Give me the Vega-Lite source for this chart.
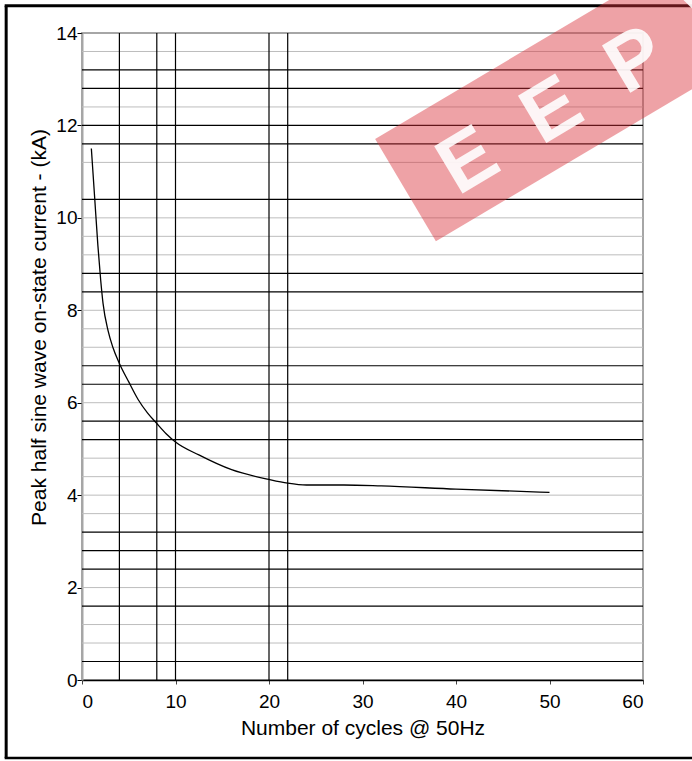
{
  "$schema": "https://vega.github.io/schema/vega-lite/v6.json",
  "width": 561,
  "height": 647,
  "autosize": "none",
  "padding": {"left": 82, "top": 33, "right": 49, "bottom": 81},
  "background": "white",
  "config": {
    "font": "Liberation Sans",
    "view": {"stroke": "#a6a6a6", "strokeWidth": 2}
  },
  "datasets": {
    "curve": [
      {"cycles": 1.0, "current": 11.5},
      {"cycles": 1.35, "current": 10.45},
      {"cycles": 1.7, "current": 9.4},
      {"cycles": 2.0, "current": 8.65},
      {"cycles": 2.25, "current": 8.15},
      {"cycles": 2.8, "current": 7.55},
      {"cycles": 3.3, "current": 7.2},
      {"cycles": 4.0, "current": 6.85},
      {"cycles": 5.0, "current": 6.45},
      {"cycles": 6.0, "current": 6.07},
      {"cycles": 7.0, "current": 5.78},
      {"cycles": 8.0, "current": 5.55},
      {"cycles": 9.0, "current": 5.33},
      {"cycles": 10.0, "current": 5.15},
      {"cycles": 12.5, "current": 4.87},
      {"cycles": 16.0, "current": 4.55},
      {"cycles": 20.0, "current": 4.34},
      {"cycles": 22.0, "current": 4.26},
      {"cycles": 24.0, "current": 4.22},
      {"cycles": 28.0, "current": 4.22},
      {"cycles": 32.0, "current": 4.2},
      {"cycles": 40.0, "current": 4.13},
      {"cycles": 50.0, "current": 4.06}
    ],
    "gray": [
      {"v": 13.6}, {"v": 12.4}, {"v": 11.2}, {"v": 10.0}, {"v": 9.6}, {"v": 9.2},
      {"v": 8.0}, {"v": 7.6}, {"v": 7.2}, {"v": 6.0}, {"v": 4.8}, {"v": 4.4},
      {"v": 4.0}, {"v": 3.6}, {"v": 2.0}, {"v": 1.2}, {"v": 0.8}
    ],
    "black": [
      {"v": 13.2}, {"v": 12.8}, {"v": 12.0}, {"v": 11.6}, {"v": 10.4}, {"v": 8.8},
      {"v": 8.4}, {"v": 6.8}, {"v": 6.4}, {"v": 5.6}, {"v": 5.2}, {"v": 3.2},
      {"v": 2.8}, {"v": 2.4}, {"v": 1.6}, {"v": 0.4}
    ],
    "vert": [{"c": 4}, {"c": 8}, {"c": 10}, {"c": 20}, {"c": 22}],
    "band": [{"x": 34.6, "y": 10.6}, {"x": 71.4, "y": 15.02}]
  },
  "layer": [
    {
      "data": {"name": "gray"},
      "mark": {"type": "rule", "color": "#bdbdbd", "strokeWidth": 1},
      "encoding": {
        "y": {
          "field": "v", "type": "quantitative",
          "scale": {"domain": [0, 14], "nice": false, "zero": false},
          "axis": {
            "values": [0, 2, 4, 6, 8, 10, 12, 14],
            "grid": false,
            "labelFontSize": 19,
            "labelColor": "black",
            "labelPadding": 0,
            "tickSize": 5,
            "tickColor": "black",
            "domainColor": "#a6a6a6",
            "domainWidth": 2,
            "title": "Peak half sine wave on-state current - (kA)",
            "titleFontSize": 21,
            "titleFontWeight": "normal",
            "titleColor": "black",
            "titleAngle": -90,
            "titleAlign": "center",
            "titleBaseline": "middle",
            "titleX": -43,
            "titleY": 294
          }
        }
      }
    },
    {
      "data": {"name": "black"},
      "mark": {"type": "rule", "color": "black", "strokeWidth": 1.2},
      "encoding": {"y": {"field": "v", "type": "quantitative"}}
    },
    {
      "data": {"name": "vert"},
      "mark": {"type": "rule", "color": "black", "strokeWidth": 1.2},
      "encoding": {
        "x": {
          "field": "c", "type": "quantitative",
          "scale": {"domain": [0, 60], "nice": false, "zero": false},
          "axis": {
            "values": [0, 10, 20, 30, 40, 50, 60],
            "grid": false,
            "labelFontSize": 19,
            "labelColor": "black",
            "labelBaseline": "alphabetic",
            "labelPadding": 23,
            "tickSize": 4,
            "tickColor": "#444",
            "domainColor": "black",
            "domainWidth": 1.5,
            "title": "Number of cycles @ 50Hz",
            "titleFontSize": 21,
            "titleFontWeight": "normal",
            "titleColor": "black",
            "titleBaseline": "alphabetic",
            "titleY": 54
          }
        }
      }
    },
    {
      "data": {"name": "curve"},
      "mark": {"type": "line", "color": "black", "strokeWidth": 1.3, "interpolate": "monotone"},
      "encoding": {
        "x": {"field": "cycles", "type": "quantitative"},
        "y": {"field": "current", "type": "quantitative"}
      }
    },
    {
      "data": {"values": [{}]},
      "mark": {"type": "rule", "color": "black", "strokeWidth": 3},
      "encoding": {
        "x": {"datum": -8.11, "type": "quantitative"},
        "y": {"datum": 14.59, "type": "quantitative"},
        "y2": {"datum": -1.69}
      }
    },
    {
      "data": {"values": [{}]},
      "mark": {"type": "rule", "color": "black", "strokeWidth": 3},
      "encoding": {
        "x": {"datum": -8.27, "type": "quantitative"},
        "x2": {"datum": 75},
        "y": {"datum": 14.59, "type": "quantitative"}
      }
    },
    {
      "data": {"values": [{}]},
      "mark": {"type": "rule", "color": "black", "strokeWidth": 2.5},
      "encoding": {
        "x": {"datum": -8.27, "type": "quantitative"},
        "x2": {"datum": 75},
        "y": {"datum": -1.69, "type": "quantitative"}
      }
    },
    {
      "data": {"name": "band"},
      "mark": {"type": "line", "color": "#d9303a", "opacity": 0.45, "strokeWidth": 119, "strokeCap": "butt"},
      "encoding": {
        "x": {"field": "x", "type": "quantitative"},
        "y": {"field": "y", "type": "quantitative"}
      }
    },
    {
      "data": {"values": [{"label": "E\u00a0\u00a0E\u00a0\u00a0P\u00a0\u00a0W"}]},
      "mark": {"type": "text", "color": "white", "opacity": 0.9, "fontSize": 80, "fontWeight": "bold", "angle": -31, "align": "center", "baseline": "middle"},
      "encoding": {
        "x": {"datum": 55.8, "type": "quantitative"},
        "y": {"datum": 12.97, "type": "quantitative"},
        "text": {"field": "label"}
      }
    }
  ]
}
